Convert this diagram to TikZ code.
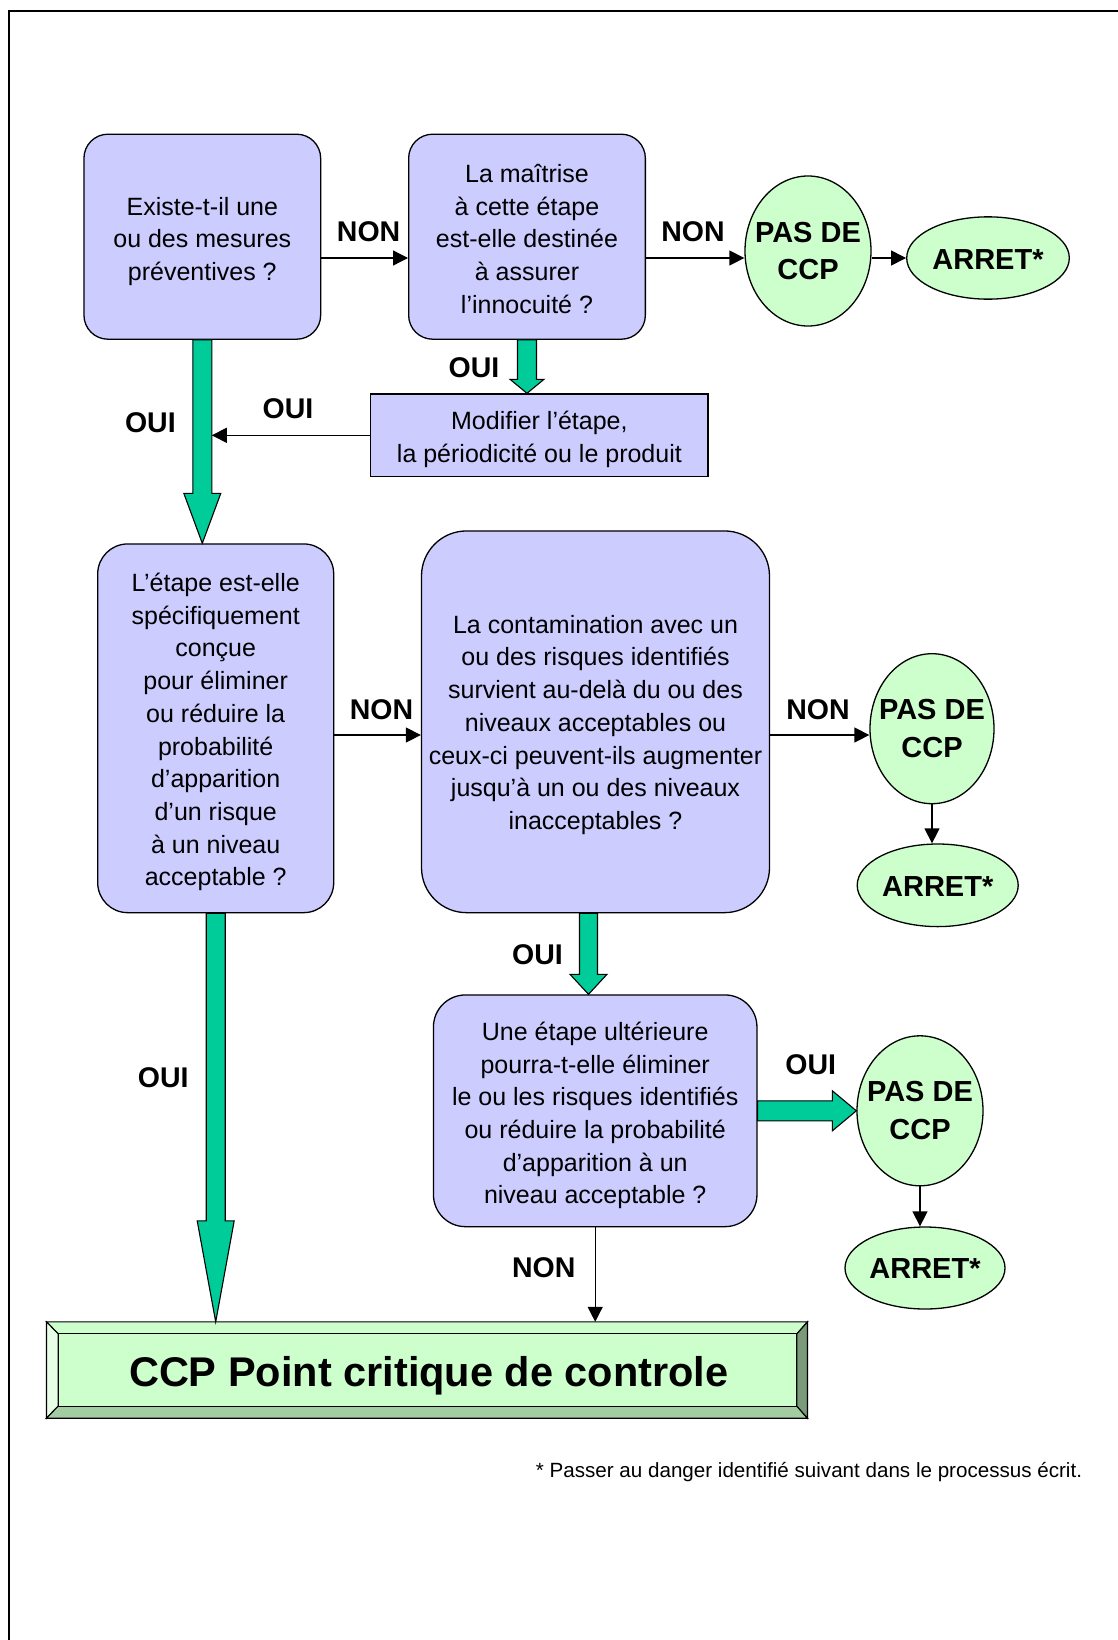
\documentclass[tikz,border=0pt]{standalone}
\usepackage{fontspec}
\setmainfont{Liberation Sans}
\usetikzlibrary{calc,shapes.geometric,arrows.meta}
\definecolor{lav}{HTML}{CCCCFF}
\definecolor{lgreen}{HTML}{CCFFCC}
\definecolor{fatgreen}{HTML}{00CC99}
\definecolor{bevL}{HTML}{E6FFE6}
\definecolor{bevB}{HTML}{A3CCA3}
\definecolor{bevR}{HTML}{7A9A7A}
\tikzset{
 qbox/.style={draw=black, line width=1.3pt, fill=lav, align=center, inner sep=2pt, font=\fontsize{25}{32.7}\selectfont},
 endell/.style={draw=black, line width=1.3pt, fill=lgreen, ellipse, inner sep=0pt},
 elltext/.style={align=center, inner sep=0pt, font=\bfseries\fontsize{29}{37.6}\selectfont},
 lbl/.style={inner sep=0pt, font=\bfseries\fontsize{28.5}{34}\selectfont},
 thinarrow/.style={draw=black, line width=1.3pt, -{Triangle[length=15pt,width=15pt]}},
 fatstyle/.style={draw=black, line width=1.1pt, fill=fatgreen, line join=miter},
 bevel/.style={draw=black, line width=1.1pt, line join=miter},
}
\newcommand\tstr[1]{\rule{0pt}{#1pt}}
\newcommand\fatdown[5]{%
  \draw[fatstyle] let \p1=(#1), \p2=(#2) in
   (\x1-#3pt,\y1) -- (\x1+#3pt,\y1) -- (\x1+#3pt,\y2+#5pt) -- (\x1+#4pt,\y2+#5pt) -- (\x1,\y2) -- (\x1-#4pt,\y2+#5pt) -- (\x1-#3pt,\y2+#5pt) -- cycle;}
\newcommand\fatright[5]{%
  \draw[fatstyle] let \p1=(#1), \p2=(#2) in
   (\x1,\y1+#3pt) -- (\x2-#5pt,\y1+#3pt) -- (\x2-#5pt,\y1+#4pt) -- (\x2,\y1) -- (\x2-#5pt,\y1-#4pt) -- (\x2-#5pt,\y1-#3pt) -- (\x1,\y1-#3pt) -- cycle;}
\begin{document}
\begin{tikzpicture}[x=1pt,y=-1pt]
\useasboundingbox (0,0) rectangle (1118,1640);
\fill[white] (0,0) rectangle (1118,1640);
\draw[line width=2pt] (8.7,1640) -- (8.7,11) -- (1118,11);

% question boxes
\node[qbox, rounded corners=24pt, minimum width=236.7pt, minimum height=205pt] (B1) at (202.3,236.7) {\tstr{27.3}Existe-t-il une\\ou des mesures\\préventives ?};
\node[qbox, rounded corners=24pt, minimum width=236.7pt, minimum height=205pt] (B2) at (527,236.7) {\tstr{22.5}La maîtrise\\à cette étape\\est-elle destinée\\à assurer\\l’innocuité ?};
\node[qbox, minimum width=337.3pt, minimum height=82.7pt] (Mod) at (539.4,435.3) {\tstr{26}Modifier l’étape,\\la périodicité ou le produit};
\node[qbox, rounded corners=30pt, minimum width=236pt, minimum height=368.7pt] (B3) at (215.7,728.3) {\tstr{26}L’étape est-elle\\spécifiquement\\conçue\\pour éliminer\\ou réduire la\\probabilité\\d’apparition\\d’un risque\\à un niveau\\acceptable ?};
\node[qbox, rounded corners=45pt, minimum width=348pt, minimum height=381.7pt] (B4) at (595.5,721.8) {\tstr{24.3}La contamination avec un\\ou des risques identifiés\\survient au-delà du ou des\\niveaux acceptables ou\\ceux-ci peuvent-ils augmenter\\jusqu’à un ou des niveaux\\inacceptables ?};
\node[qbox, rounded corners=32pt, minimum width=323.5pt, minimum height=231.7pt] (B5) at (595.2,1110.8) {\tstr{28}Une étape ultérieure\\pourra-t-elle éliminer\\le ou les risques identifiés\\ou réduire la probabilité\\d’apparition à un\\niveau acceptable ?};

% end ellipses
\node[endell, minimum width=126pt, minimum height=150pt] (E1) at (808,251) {};
\node[elltext] (E1t) at (E1) {PAS DE\\CCP};
\node[endell, minimum width=162.6pt, minimum height=82.3pt] (A1) at (988,258) {};
\node[elltext] (A1t) at ($(A1)+(0,2)$) {ARRET*};
\node[endell, minimum width=124pt, minimum height=150pt] (E2) at (932,728.7) {};
\node[elltext] (E2t) at (E2) {PAS DE\\CCP};
\node[endell, minimum width=161pt, minimum height=82.6pt] (A2) at (937.7,885.3) {};
\node[elltext] (A2t) at ($(A2)+(0,1)$) {ARRET*};
\node[endell, minimum width=126pt, minimum height=150pt] (E3) at (920,1110.8) {};
\node[elltext] (E3t) at (E3) {PAS DE\\CCP};
\node[endell, minimum width=160pt, minimum height=82pt] (A3) at (925,1268) {};
\node[elltext] (A3t) at ($(A3)+(0,1)$) {ARRET*};

% CCP bevelled box
\node[minimum width=760.6pt, minimum height=96pt, inner sep=0pt] (CCP) at (427,1370) {};
\coordinate (iNW) at ($(CCP.north west)+(11.6,12)$);
\coordinate (iNE) at ($(CCP.north east)+(-10.6,12)$);
\coordinate (iSE) at ($(CCP.south east)+(-10.6,-12)$);
\coordinate (iSW) at ($(CCP.south west)+(11.6,-12)$);
\filldraw[bevel, fill=lgreen] (CCP.north west) -- (CCP.north east) -- (iNE) -- (iNW) -- cycle;
\filldraw[bevel, fill=bevL] (CCP.north west) -- (iNW) -- (iSW) -- (CCP.south west) -- cycle;
\filldraw[bevel, fill=bevB] (CCP.south west) -- (iSW) -- (iSE) -- (CCP.south east) -- cycle;
\filldraw[bevel, fill=bevR] (CCP.north east) -- (CCP.south east) -- (iSE) -- (iNE) -- cycle;
\filldraw[bevel, fill=lgreen] (iNW) rectangle (iSE);
\node[inner sep=0pt, font=\bfseries\fontsize{41.5}{48}\selectfont] (CCPt) at ($(CCP)+(1.8,6)$) {CCP Point critique de controle};

% fat green arrows
\coordinate (b4out) at ($(B4.south)+(-7,0)$);
\fatdown{B1.south}{B3.north}{9.5}{18.5}{50}
\fatdown{B2.south}{Mod.north}{9.5}{17}{14}
\fatdown{B3.south}{CCP.north}{9.5}{18.5}{101}
\fatdown{b4out}{B5.north}{9}{18.5}{20}
\fatright{B5.east}{E3.west}{10}{20}{24}

% thin arrows
\coordinate (r1) at (0,258);
\coordinate (r2) at (0,735);
\coordinate (shaftR) at ($(B1.south)+(9.5,0)$);
\draw[thinarrow] (B1.east |- r1) -- (B2.west |- r1);
\draw[thinarrow] (B2.east |- r1) -- (E1.west |- r1);
\draw[thinarrow] (E1.east |- r1) -- (A1.west);
\draw[thinarrow] (Mod.west) -- (Mod.west -| shaftR);
\draw[thinarrow] (B3.east |- r2) -- (B4.west |- r2);
\draw[thinarrow] (B4.east |- r2) -- (E2.west |- r2);
\draw[thinarrow] (E2.south) -- (E2.south |- A2.north);
\draw[thinarrow] (E3.south) -- (E3.south |- A3.north);
\draw[thinarrow] (B5.south) -- (B5.south |- CCP.north);

% labels
\node[lbl] (n1) at (368.6,231.7) {NON};
\node[lbl] (n2) at (693,231.5) {NON};
\node[lbl] (o1) at (474,368) {OUI};
\node[lbl] (o2) at (288,408.7) {OUI};
\node[lbl] (o3) at (150.4,423) {OUI};
\node[lbl] (n3) at (381.5,710) {NON};
\node[lbl] (n4) at (818,710) {NON};
\node[lbl] (o4) at (537.5,955) {OUI};
\node[lbl] (o5) at (163.3,1078) {OUI};
\node[lbl] (o6) at (810.7,1065) {OUI};
\node[lbl] (n5) at (543.7,1268) {NON};

% footnote
\node[inner sep=0pt, font=\fontsize{20.6}{24}\selectfont] (fn) at (809,1472) {* Passer au danger identifié suivant dans le processus écrit.};
\end{tikzpicture}
\end{document}
